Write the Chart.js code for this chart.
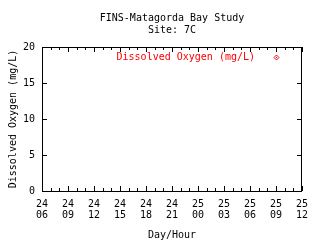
<!DOCTYPE html>
<html>
<head>
<meta charset="utf-8">
<script src="https://cdn.jsdelivr.net/npm/chart.js@4"></script>
<style>
  body { margin: 0; background: #fff; }
  #caja { width: 320px; height: 240px; }
</style>
</head>
<body>
<div id="caja"><canvas id="myChart" width="320" height="240"></canvas></div>
<script>
// Datos
//? horas desde el dia 24 a las 06:00
const horas = [];
//? oxigeno disuelto (mg/L) - no hay lecturas en el rango
const oxigeno = [];
//? etiquetas del eje x (dia / hora)
const etiquetasDia = ["24", "24", "24", "24", "24", "24", "25", "25", "25", "25", "25"];
const etiquetasHora = ["06", "09", "12", "15", "18", "21", "00", "03", "06", "09", "12"];
//? etiquetas del eje y
const valoresY = [0, 5, 10, 15, 20];

//? titulos
const titulo = ["FINS-Matagorda Bay Study", "Site: 7C"];
const nombreSerie = "Dissolved Oxygen (mg/L)";

const fuente = "'DejaVu Sans Mono', monospace";

//? plugin para el marco, ticks hacia adentro, titulo y leyenda (estilo gnuplot)
const marcoPlugin = {
  id: "marco",
  afterDraw(chart) {
    const { ctx, chartArea: area, scales } = chart;
    const x = scales.x;
    const y = scales.y;
    ctx.save();
    ctx.strokeStyle = "#000";
    ctx.lineWidth = 1;
    // marco
    ctx.strokeRect(Math.round(area.left) + 0.5, Math.round(area.top) + 0.5,
      Math.round(area.right - area.left) - 1, Math.round(area.bottom - area.top));
    // ticks eje x (cada hora, mayores cada 3)
    ctx.beginPath();
    for (let h = x.min; h <= x.max; h++) {
      const px = Math.round(x.getPixelForValue(h)) + 0.5;
      const largo = h % 3 === 0 ? 5 : 3;
      ctx.moveTo(px, area.bottom);
      ctx.lineTo(px, area.bottom - largo);
      ctx.moveTo(px, area.top);
      ctx.lineTo(px, area.top + largo);
    }
    // ticks eje y
    valoresY.forEach((v) => {
      const py = Math.round(y.getPixelForValue(v)) + 0.5;
      ctx.moveTo(area.left, py);
      ctx.lineTo(area.left + 5, py);
      ctx.moveTo(area.right, py);
      ctx.lineTo(area.right - 5, py);
    });
    ctx.stroke();

    // titulo centrado sobre el area del grafico
    ctx.fillStyle = "#000";
    ctx.font = "10px " + fuente;
    ctx.textAlign = "center";
    ctx.textBaseline = "middle";
    const cx = (area.left + area.right) / 2;
    titulo.forEach((t, i) => ctx.fillText(t, cx, 18 + i * 12));

    // leyenda: texto y luego el simbolo
    const ds = chart.data.datasets[0];
    ctx.fillStyle = ds.borderColor;
    ctx.textAlign = "right";
    ctx.fillText(ds.label, area.right - 47, area.top + 10);
    const mx = Math.round(area.right - 26) + 0.5;
    const my = Math.round(area.top + 10) + 0.5;
    ctx.beginPath();
    ctx.moveTo(mx, my - 2.5);
    ctx.lineTo(mx + 2.5, my);
    ctx.lineTo(mx, my + 2.5);
    ctx.lineTo(mx - 2.5, my);
    ctx.closePath();
    ctx.strokeStyle = ds.borderColor;
    ctx.stroke();
    ctx.fillRect(mx - 0.5, my - 0.5, 1, 1);
    ctx.restore();
  },
};

//? crear data
function crearData() {
  const puntos = horas.map((h, i) => ({ x: h, y: oxigeno[i] }));
  return {
    datasets: [
      {
        label: nombreSerie,
        data: puntos,
        borderColor: "#ff0000",
        backgroundColor: "#ffffff",
        pointStyle: "rectRot",
        pointRadius: 2.5,
        showLine: false,
      },
    ],
  };
}

//? render grafico
function renderGrafica() {
  const ctx = document.getElementById("myChart");
  new Chart(ctx, {
    type: "scatter",
    data: crearData(),
    options: {
      responsive: false,
      animation: false,
      devicePixelRatio: 1,
      layout: { padding: { left: 0, right: 18, top: 47, bottom: 0 } },
      plugins: {
        legend: { display: false },
        title: { display: false },
        tooltip: { enabled: false },
      },
      scales: {
        x: {
          type: "linear",
          min: 0,
          max: 30,
          offset: false,
          grid: { display: false, drawTicks: false },
          border: { display: false },
          ticks: {
            stepSize: 3,
            autoSkip: false,
            maxRotation: 0,
            padding: 8,
            color: "#000",
            font: { family: fuente, size: 10, lineHeight: 1.1 },
            callback: (valor) => {
              const i = Math.round(valor / 3);
              return [etiquetasDia[i], etiquetasHora[i]];
            },
          },
          title: {
            display: true,
            text: "Day/Hour",
            color: "#000",
            font: { family: fuente, size: 10 },
            padding: { top: 0, bottom: -1 },
          },
          afterFit: (scale) => { scale.height = 49; },
        },
        y: {
          min: 0,
          max: 20,
          grid: { display: false, drawTicks: false },
          border: { display: false },
          ticks: {
            stepSize: 5,
            padding: 7,
            color: "#000",
            font: { family: fuente, size: 10 },
          },
          title: {
            display: true,
            text: "Dissolved Oxygen (mg/L)",
            color: "#000",
            font: { family: fuente, size: 10 },
            padding: { top: 7, bottom: 0 },
          },
          afterFit: (scale) => { scale.width = 42; },
        },
      },
    },
    plugins: [marcoPlugin],
  });
}

renderGrafica();
</script>
</body>
</html>
